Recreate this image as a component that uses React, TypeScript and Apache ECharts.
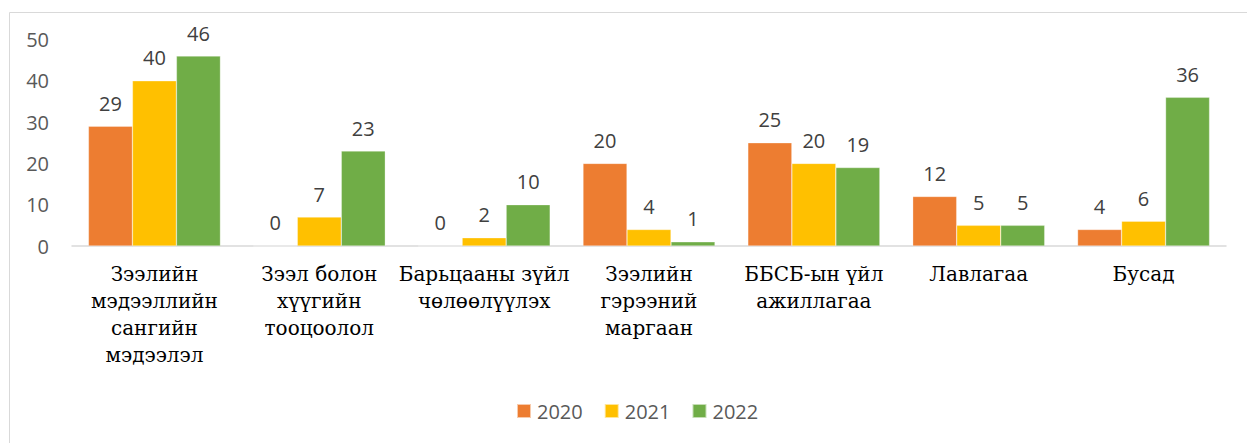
import React, { useEffect, useRef } from "react";
import * as echarts from "echarts";

const categories = [
  "Зээлийн\nмэдээллийн\nсангийн\nмэдээлэл",
  "Зээл болон\nхүүгийн\nтооцоолол",
  "Барьцааны зүйл\nчөлөөлүүлэх",
  "Зээлийн\nгэрээний\nмаргаан",
  "ББСБ-ын үйл\nажиллагаа",
  "Лавлагаа",
  "Бусад",
];
const seriesNames = ["2020", "2021", "2022"];
const values2020 = [29, 0, 0, 20, 25, 12, 4];
const values2021 = [40, 7, 2, 4, 20, 5, 6];
const values2022 = [46, 23, 10, 1, 19, 5, 36];
const colors = ["#ED7D31", "#FFC000", "#70AD47"];

const sansFont = "Open Sans";
const serifFont = "DejaVu Serif";

export default function App() {
  const ref = useRef<HTMLDivElement>(null);
  useEffect(() => {
    if (!ref.current) return;
    const chart = echarts.init(ref.current, undefined, { renderer: "svg" });
    const data = [values2020, values2021, values2022];
    chart.setOption({
      animation: false,
      backgroundColor: "#ffffff",
      graphic: [
        {
          type: "rect",
          left: 7,
          top: 10,
          shape: { x: 0.5, y: 0.5, width: 1400, height: 600 },
          style: { fill: "none", stroke: "#d9d9d9", lineWidth: 1 },
          silent: true,
          z: -1,
        },
      ],
      grid: { left: 72, right: 21, top: 39.5, bottom: 197, containLabel: false },
      legend: {
        data: seriesNames,
        bottom: 22,
        left: 516,
        padding: 0,
        itemWidth: 14,
        itemHeight: 14,
        itemGap: 21,
        icon: "rect",
        textStyle: { fontFamily: sansFont, fontSize: 20, color: "#595959", padding: [0, 0, 0, 1] },
      },
      xAxis: {
        type: "category",
        data: categories,
        axisLine: { lineStyle: { color: "#d9d9d9", width: 1.5 } },
        axisTick: { show: false },
        axisLabel: {
          interval: 0,
          margin: 14,
          color: "#000000",
          align: "center",
          fontFamily: serifFont,
          fontSize: 20,
          lineHeight: 27,
        },
      },
      yAxis: {
        type: "value",
        min: 0,
        max: 50,
        interval: 10,
        splitLine: { show: false },
        axisLine: { show: false },
        axisTick: { show: false },
        axisLabel: { margin: 23, fontFamily: sansFont, fontSize: 20, color: "#595959" },
      },
      series: seriesNames.map((name, i) => ({
        name,
        type: "bar",
        data: data[i],
        barWidth: 44,
        barGap: "0%",
        itemStyle: { color: colors[i], borderColor: "rgba(255,255,255,0.6)", borderWidth: 0.5 },
        label: {
          show: true,
          position: "top",
          distance: 13,
          fontFamily: sansFont,
          fontSize: 20,
          color: "#404040",
        },
      })),
    });
    return () => chart.dispose();
  }, []);
  return (
    <div
      ref={ref}
      style={{ position: "absolute", left: 0, top: 0, width: 1247, height: 443 }}
    />
  );
}
